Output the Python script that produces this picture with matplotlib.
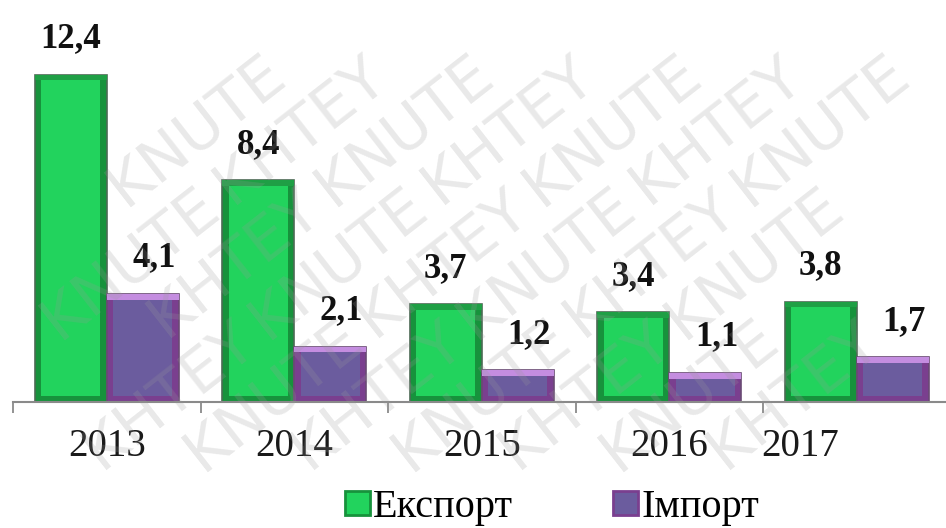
import matplotlib
matplotlib.use("Agg")
import matplotlib.pyplot as plt
from matplotlib.patches import Patch
import numpy as np

years = ["2013", "2014", "2015", "2016", "2017"]
export_vals = [12.4, 8.4, 3.7, 3.4, 3.8]
import_vals = [4.1, 2.1, 1.2, 1.1, 1.7]
export_labels = ["12,4", "8,4", "3,7", "3,4", "3,8"]
import_labels = ["4,1", "2,1", "1,2", "1,1", "1,7"]
series_names = ["Експорт", "Імпорт"]
watermark_words = ["KNUTE", "KHTEY"]

plt.rcParams['font.family'] = ['Liberation Serif', 'DejaVu Serif']

W, H = 946, 528
fig = plt.figure(figsize=(W / 100, H / 100), dpi=100)
fig.patch.set_facecolor('white')
ax = fig.add_axes([13 / W, 126 / H, 937.5 / W, 369.6 / H])
ax.set_xlim(-0.5, 4.5)
ax.set_ylim(0, 14)

x = np.arange(len(years))
w = 0.385
d = 0.22      # bevel thickness (vertical, data units)
dx = 0.035    # bevel thickness (horizontal)

green_face, green_dark, green_edge, green_top = '#22d35d', '#17923c', '#4d6b55', '#1f9f45'
purp_face, purp_dark, purp_edge, purp_top = '#6b5c9e', '#7a3f8f', '#6a4a74', '#c48de0'

def bevel_bars(xs, vals, face, dark, edge, top):
    ax.bar(xs, vals, width=w, color=dark, edgecolor=edge, linewidth=1.2, zorder=2)
    v = np.array(vals)
    ax.bar(xs, d, bottom=v - d, width=w, color=top, edgecolor='none', zorder=3)
    ax.bar(xs, v - 2 * d, bottom=d, width=w - 2 * dx, color=face, edgecolor='none', zorder=4)

bevel_bars(x - w / 2, export_vals, green_face, green_dark, green_edge, green_top)
bevel_bars(x + w / 2, import_vals, purp_face, purp_dark, purp_edge, purp_top)

for xi, v, lab in zip(x - w / 2, export_vals, export_labels):
    ax.annotate(lab, (xi, v), xytext=(0, 14), textcoords='offset points',
                ha='center', va='bottom', fontsize=25, fontweight='bold', color='#111111', zorder=6)
for xi, v, lab in zip(x + w / 2, import_vals, import_labels):
    ax.annotate(lab, (xi, v), xytext=(8, 14), textcoords='offset points',
                ha='center', va='bottom', fontsize=25, fontweight='bold', color='#111111', zorder=6)

# axis styling
for s in ['top', 'right', 'left']:
    ax.spines[s].set_visible(False)
ax.spines['bottom'].set_color('#8a8a8a')
ax.spines['bottom'].set_linewidth(1.5)
ax.set_yticks([])
ax.set_xticks(np.arange(-0.5, len(years) + 0.5, 1.0))
ax.set_xticklabels([])
ax.tick_params(axis='x', length=8, width=1.3, color='#8a8a8a', direction='out')
ax.patch.set_alpha(0)

label_shift = [0, 0, 0, 0, -0.3]
trans = ax.get_xaxis_transform()
for xi, yr, sh in zip(x, years, label_shift):
    ax.text(xi + sh, -0.12, yr, transform=trans, ha='center', va='center',
            fontsize=28, color='#1a1a1a', clip_on=False)

handles = [Patch(facecolor=green_face, edgecolor=green_dark, linewidth=2),
           Patch(facecolor=purp_face, edgecolor=purp_dark, linewidth=2)]
fig.legend(handles, series_names, loc='center', bbox_to_anchor=(552 / W, 1 - 508 / H),
           ncol=2, frameon=False, fontsize=29, handlelength=0.62, handleheight=0.55,
           handletextpad=0.08, columnspacing=2.5, borderaxespad=0, borderpad=0)

# watermark: diagonal rows of words, only those fully inside the picture
ang = np.deg2rad(38)
ux, uy = np.cos(ang), np.sin(ang)
step = 215.0
wm_texts = []
for k in range(-14, 16):
    ox, oy = k * 104.0, 0.0
    for i in range(-2, 10):
        px = ox + i * step * ux
        py = oy + i * step * uy
        py = H - py
        if -200 < px < W + 200 and -200 < py < H + 200:
            t = fig.text(px / W, 1 - py / H, watermark_words[(i + k) % 2], rotation=38,
                         rotation_mode='anchor', fontsize=44, family='DejaVu Sans',
                         color='#9a9a9a', alpha=0.22, ha='center', va='center', zorder=10)
            wm_texts.append(t)
fig.canvas.draw()
r = fig.canvas.get_renderer()
for t in wm_texts:
    bb = t.get_window_extent(r)
    if bb.x0 < 0 or bb.y0 < 0 or bb.x1 > W or bb.y1 > H:
        t.remove()

fig.savefig('out.png', dpi=100, facecolor='white')
